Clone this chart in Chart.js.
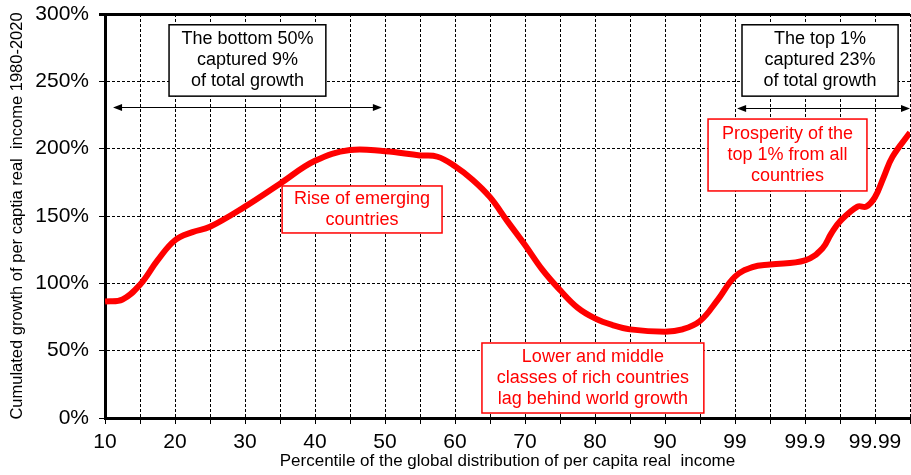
<!DOCTYPE html>
<html>
<head>
<meta charset="utf-8">
<script src="https://cdn.jsdelivr.net/npm/chart.js@4/dist/chart.umd.min.js"></script>
<style>
  html, body { margin: 0; padding: 0; background: #fff; }
  #wrap { width: 911px; height: 475px; }
</style>
</head>
<body>
<div id="wrap"><canvas id="elephant"></canvas></div>
<script>
// x positions are tick slots: 0 = P10, 1 = P15 ... 18 = P99, 20 = P99.9, 22 = P99.99
const tickLabels = ['10','','20','','30','','40','','50','','60','','70','','80','','90','','99','','99.9','','99.99',''];
const slotPos = [0, 0.5, 1, 1.5, 2, 2.5, 3, 4, 5, 6, 7, 8, 9, 9.5, 10, 10.5, 11, 11.5, 12, 12.5, 13, 13.5, 14, 14.5, 15, 16, 16.5, 17, 17.5, 18, 18.5, 19, 20, 20.5, 20.75, 21, 21.5, 21.75, 22, 22.25, 22.5, 23];
const growth  = [86.5, 88, 99, 117, 132, 138, 142, 157, 174, 191, 199, 198, 195, 194, 187, 177, 164, 146, 128.5, 110, 95, 82, 74, 69, 65.8, 64.1, 65.8, 72, 87.6, 105, 112, 114, 117, 126, 137, 146, 157, 157, 164, 179, 194, 212];
const yTicks = [0, 50, 100, 150, 200, 250, 300];

// annotation boxes, in data units (x slot, y %)
const notes = [
  {x0: 1.83, x1: 6.31, y0: 239, y1: 292, color: '#000', lines: ['The bottom 50%', 'captured 9%', 'of total growth']},
  {x0: 18.2, x1: 22.66, y0: 239, y1: 292, color: '#000', lines: ['The top 1%', 'captured 23%', 'of total growth']},
  {x0: 5.06, x1: 9.63, y0: 137.4, y1: 172.3, color: '#ff0000', lines: ['Rise of emerging', 'countries']},
  {x0: 17.23, x1: 21.77, y0: 168.6, y1: 222, color: '#ff0000', lines: ['Prosperity of the', 'top 1% from all', 'countries']},
  {x0: 10.77, x1: 17.11, y0: 3.7, y1: 55.7, color: '#ff0000', lines: ['Lower and middle', 'classes of rich countries', 'lag behind world growth']}
];
const arrows = [
  {x0: 0.23, x1: 7.91, y: 231},
  {x0: 18.06, x1: 23, y: 230}
];

const FONT = "'Liberation Sans', Arial, sans-serif";

const notesPlugin = {
  id: 'notes',
  afterDatasetsDraw(chart) {
    const {ctx, scales: {x, y}} = chart;
    ctx.save();
    arrows.forEach(a => {
      const px0 = x.getPixelForValue(a.x0), px1 = x.getPixelForValue(a.x1), py = Math.round(y.getPixelForValue(a.y)) + 0.5;
      ctx.strokeStyle = '#000'; ctx.fillStyle = '#000'; ctx.lineWidth = 1;
      ctx.beginPath(); ctx.moveTo(px0 + 4, py); ctx.lineTo(px1 - 4, py); ctx.stroke();
      ctx.beginPath(); ctx.moveTo(px0, py); ctx.lineTo(px0 + 9, py - 3.5); ctx.lineTo(px0 + 9, py + 3.5); ctx.closePath(); ctx.fill();
      ctx.beginPath(); ctx.moveTo(px1, py); ctx.lineTo(px1 - 9, py - 3.5); ctx.lineTo(px1 - 9, py + 3.5); ctx.closePath(); ctx.fill();
    });
    notes.forEach(n => {
      const l = x.getPixelForValue(n.x0), r = x.getPixelForValue(n.x1);
      const t = y.getPixelForValue(n.y1), b = y.getPixelForValue(n.y0);
      ctx.fillStyle = '#fff';
      ctx.fillRect(l, t, r - l, b - t);
      ctx.strokeStyle = n.color; ctx.lineWidth = 1.5;
      ctx.strokeRect(l, t, r - l, b - t);
      ctx.fillStyle = n.color;
      ctx.font = '18px ' + FONT;
      ctx.textAlign = 'center'; ctx.textBaseline = 'middle';
      const lh = 21, cx = (l + r) / 2, cy = (t + b) / 2;
      n.lines.forEach((s, i) => ctx.fillText(s, cx, cy + (i - (n.lines.length - 1) / 2) * lh));
    });
    ctx.restore();
  }
};

new Chart(document.getElementById('elephant'), {
  type: 'line',
  data: {
    datasets: [{
      data: slotPos.map((p, i) => ({x: p, y: growth[i]})),
      borderColor: '#ff0000',
      borderWidth: 6,
      pointRadius: 0,
      tension: 0.4,
      fill: false
    }]
  },
  options: {
    responsive: true,
    maintainAspectRatio: false,
    animation: false,
    events: [],
    layout: {padding: {top: 14, right: 1, bottom: 0, left: 0}},
    plugins: {legend: {display: false}, tooltip: {enabled: false}},
    scales: {
      x: {
        type: 'linear', min: 0, max: 23,
        afterFit: s => { s.height = 57; s.paddingLeft = 0; s.paddingRight = 0; },
        afterBuildTicks: s => { s.ticks = tickLabels.map((_, i) => ({value: i})); },
        ticks: {
          autoSkip: false, maxRotation: 0, padding: 6,
          color: '#000', font: {family: FONT, size: 21},
          callback: v => tickLabels[v]
        },
        grid: {color: '#000', lineWidth: 1, tickLength: 6, tickColor: '#000'},
        border: {color: '#000', width: 3, dash: [3, 2]},
        title: {display: true, text: 'Percentile of the global distribution of per capita real  income', color: '#000', font: {family: FONT, size: 17}, padding: {top: 0, bottom: 3}}
      },
      y: {
        min: 0, max: 300,
        afterFit: s => { s.width = 105; s.paddingTop = 0; s.paddingBottom = 0; },
        afterBuildTicks: s => { s.ticks = yTicks.map(v => ({value: v})); },
        ticks: {
          padding: 10, color: '#000', font: {family: FONT, size: 21},
          callback: v => v + '%'
        },
        grid: {
          color: '#000',
          lineWidth: c => (c.tick && c.tick.value === 300 ? 3 : 1),
          tickLength: 6, tickColor: '#000'
        },
        border: {
          color: '#000', width: 3,
          dash: c => (c.tick && c.tick.value === 300 ? [] : [3, 2])
        },
        title: {display: true, text: 'Cumulated growth of per captia real  income 1980-2020', color: '#000', font: {family: FONT, size: 16.5}, padding: {top: 8, bottom: 0}}
      }
    }
  },
  plugins: [notesPlugin]
});
</script>
</body>
</html>
